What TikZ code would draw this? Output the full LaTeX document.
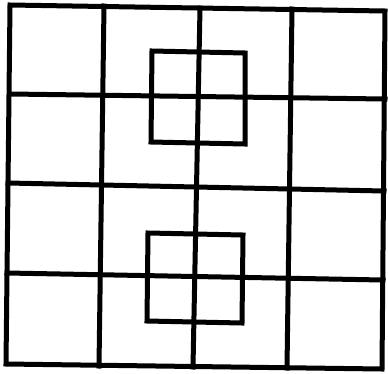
\documentclass[tikz,border=0pt]{standalone}
\begin{document}
\begin{tikzpicture}[x=1pt,y=-1pt,grid/.style={line width=5pt,black,line join=miter,line cap=rect}]
\useasboundingbox (0,0) rectangle (388,373);
% outer frame
\coordinate (tl) at (10,5);
\coordinate (tr) at (385,11);
\coordinate (br) at (382,369);
\coordinate (bl) at (6,364);
\draw[grid] (tl) -- (tr) -- (br) -- (bl) -- cycle;
% horizontal lines
\coordinate (h1a) at (10,94);  \coordinate (h1b) at (385,99);
\coordinate (h2a) at (8,183);  \coordinate (h2b) at (384,191);
\coordinate (h3a) at (7,273);  \coordinate (h3b) at (383,280);
\draw[grid] (h1a) -- (h1b);
\draw[grid] (h2a) -- (h2b);
\draw[grid] (h3a) -- (h3b);
% vertical lines
\coordinate (v1a) at (104,6);  \coordinate (v1b) at (99,366);
\coordinate (v2a) at (200,8);  \coordinate (v2b) at (193,367);
\coordinate (v3a) at (292,9);  \coordinate (v3b) at (287,368);
\draw[grid] (v1a) -- (v1b);
\draw[grid] (v2a) -- (v2b);
\draw[grid] (v3a) -- (v3b);
% upper small square
\coordinate (u1) at (152,51); \coordinate (u2) at (245,53);
\coordinate (u3) at (245,144); \coordinate (u4) at (151,142);
\draw[grid] (u1) -- (u2) -- (u3) -- (u4) -- cycle;
% lower small square
\coordinate (l1) at (148,233); \coordinate (l2) at (243,235);
\coordinate (l3) at (242,323); \coordinate (l4) at (147,321);
\draw[grid] (l1) -- (l2) -- (l3) -- (l4) -- cycle;
\end{tikzpicture}
\end{document}
